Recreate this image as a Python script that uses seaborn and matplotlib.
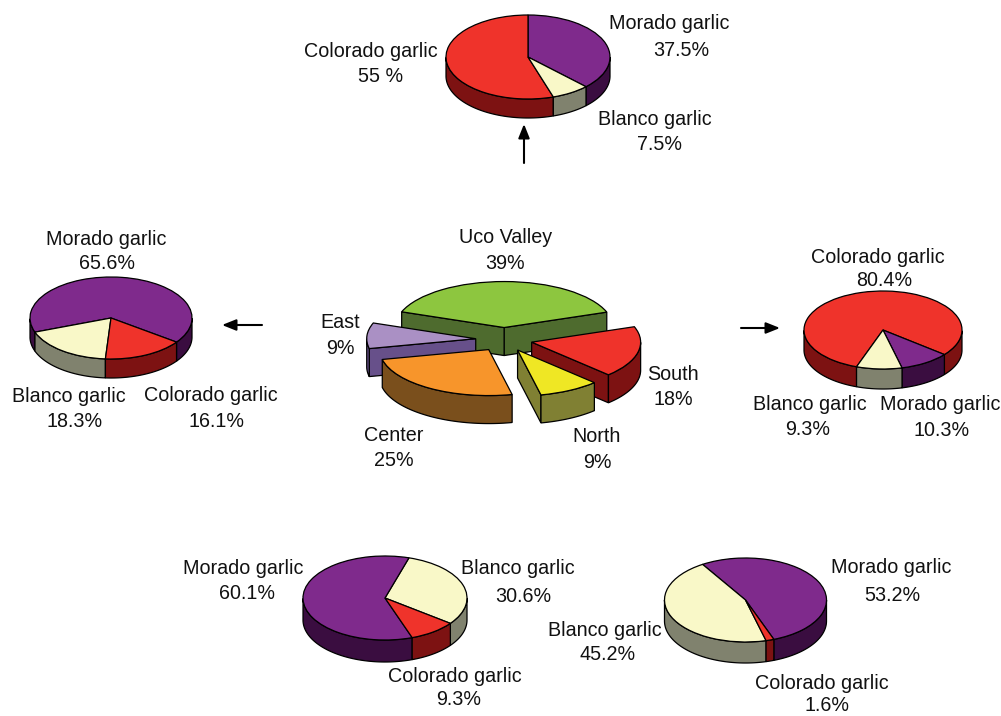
import matplotlib
matplotlib.use("Agg")
import matplotlib.pyplot as plt
import numpy as np
import seaborn as sns

W, H = 1001, 716

# shares (%)
region_names = ["Uco Valley", "South", "North", "Center", "East"]
region_share = [39, 18, 9, 25, 9]

top_names = ["Morado garlic", "Blanco garlic", "Colorado garlic"]
top_share = [37.5, 7.5, 55]

left_names = ["Colorado garlic", "Blanco garlic", "Morado garlic"]
left_share = [16.1, 18.3, 65.6]

right_names = ["Morado garlic", "Blanco garlic", "Colorado garlic"]
right_share = [10.3, 9.3, 80.4]

low1_names = ["Blanco garlic", "Colorado garlic", "Morado garlic"]
low1_share = [30.6, 9.3, 60.1]

low2_names = ["Morado garlic", "Colorado garlic", "Blanco garlic"]
low2_share = [53.2, 1.6, 45.2]

# top colour, side colour
colors = {
    "Morado garlic": ("#7F2A8C", "#3A0D40"),
    "Blanco garlic": ("#F9F8C8", "#80826E"),
    "Colorado garlic": ("#EF332B", "#7D1212"),
    "Uco Valley": ("#8DC63F", "#4E6B2E"),
    "South": ("#EF332B", "#7D1212"),
    "North": ("#EFE724", "#808033"),
    "Center": ("#F7952B", "#7A4F1C"),
    "East": ("#AA90C4", "#67508A"),
}

sns.set_theme(style="white")
plt.rcParams["font.family"] = ["Liberation Sans", "DejaVu Sans"]

fig = plt.figure(figsize=(W / 100, H / 100), dpi=100)


def pie3d(names, share, cx, cy, rx, ry, depth, start, explode=0.0):
    pad = 1.6
    d = depth / ry
    bw, bh = 2 * pad * rx, (2 * pad + d) * ry
    ax = fig.add_axes([(cx - pad * rx) / W, 1 - (cy + (pad + d) * ry) / H, bw / W, bh / H])
    tops = [colors[n][0] for n in names]
    wedges, _ = ax.pie(share, colors=tops, startangle=start, counterclock=False,
                       explode=[explode] * len(share),
                       wedgeprops=dict(edgecolor="black", linewidth=0.9))
    ax.set_aspect("auto")
    ax.set_xlim(-pad, pad)
    ax.set_ylim(-pad - d, pad)

    mids = [np.deg2rad((w.theta1 + w.theta2) / 2) for w in wedges]
    order = np.argsort([-np.sin(m) for m in mids])
    for rank, i in enumerate(order):
        w, m, side = wedges[i], mids[i], colors[names[i]][1]
        tx, ty = explode * np.cos(m), explode * np.sin(m)
        kw = dict(facecolor=side, edgecolor="black", linewidth=0.9, zorder=2 * rank + 1)
        t = np.deg2rad(np.linspace(w.theta1, w.theta2, 200))
        if explode > 0:
            # only the cut faces turned towards the viewer
            px, py = 0.5 * np.cos(m), 0.5 * np.sin(m)
            for ang in (t[0], t[-1]):
                if abs(np.cos(ang)) > 1e-6 and py > px * np.tan(ang):
                    xo, yo = tx + np.cos(ang), ty + np.sin(ang)
                    ax.fill([tx, xo, xo, tx], [ty, yo, yo - d, ty - d], **kw)
        front = np.sin(t) <= 0
        # contiguous runs of the arc on the near side
        edges = np.flatnonzero(np.diff(np.r_[0, front.astype(int), 0]))
        for a, b in zip(edges[::2], edges[1::2]):
            xs = tx + np.cos(t[a:b])
            ys = ty + np.sin(t[a:b])
            ax.fill(np.r_[xs, xs[::-1]], np.r_[ys, ys[::-1] - d], **kw)
        w.set_zorder(2 * rank + 2)
    return ax


pie3d(region_names, region_share, 504, 339.5, 109, 46, 28, 160, explode=0.26)
pie3d(top_names, top_share, 528, 57, 82, 42, 19, 90)
pie3d(left_names, left_share, 111, 318, 81, 41, 19, -36)
pie3d(right_names, right_share, 883, 330, 79, 39, 20, -39)
pie3d(low1_names, low1_share, 385, 598, 82, 42, 22, 73)
pie3d(low2_names, low2_share, 745.5, 600, 81, 42, 21, 122)

over = fig.add_axes([0, 0, 1, 1])
over.set_xlim(0, W)
over.set_ylim(H, 0)
over.axis("off")
over.patch.set_alpha(0)


def label(name, value, x1, y1, x2, y2):
    over.text(x1, y1 + 1.5, name, ha="center", va="center", fontsize=14.2, color="#111111")
    over.text(x2, y2 + 1.5, value, ha="center", va="center", fontsize=14.2, color="#111111")


def pct(v):
    return f"{v}%"


label(top_names[2], "55 %", 371, 50, 381, 75)
label(top_names[0], pct(top_share[0]), 669, 22, 681, 49)
label(top_names[1], pct(top_share[1]), 655, 118, 659, 143)

label(left_names[2], pct(left_share[2]), 106, 238, 107, 262)
label(left_names[1], pct(left_share[1]), 69, 395, 75, 420)
label(left_names[0], pct(left_share[0]), 211, 394, 216, 420)

label(region_names[0], pct(region_share[0]), 506, 236, 505, 262)
label(region_names[4], pct(region_share[4]), 340, 321, 340, 347)
label(region_names[1], pct(region_share[1]), 673, 373, 673, 398)
label(region_names[2], pct(region_share[2]), 597, 435, 597, 461)
label(region_names[3], pct(region_share[3]), 394, 434, 394, 459)

label(right_names[2], pct(right_share[2]), 878, 256, 884, 279)
label(right_names[1], pct(right_share[1]), 810, 403, 808, 428)
label(right_names[0], pct(right_share[0]), 940, 403, 942, 429)

label(low1_names[2], pct(low1_share[2]), 243, 567, 247, 592)
label(low1_names[0], pct(low1_share[0]), 518, 567, 523, 595)
label(low1_names[1], pct(low1_share[1]), 455, 675, 459, 698)

label(low2_names[2], pct(low2_share[2]), 605, 629, 608, 653)
label(low2_names[0], pct(low2_share[0]), 891, 566, 892, 594)
label(low2_names[1], pct(low2_share[1]), 822, 682, 827, 704)

arrow = dict(arrowstyle="-|>,head_width=0.28,head_length=0.7", color="black", lw=1.5, shrinkA=0, shrinkB=0)
over.annotate("", xy=(524, 124), xytext=(524, 163), arrowprops=arrow)
over.annotate("", xy=(222, 325), xytext=(262, 325), arrowprops=arrow)
over.annotate("", xy=(780, 328), xytext=(741, 328), arrowprops=arrow)

fig.savefig("out.png", dpi=100)
